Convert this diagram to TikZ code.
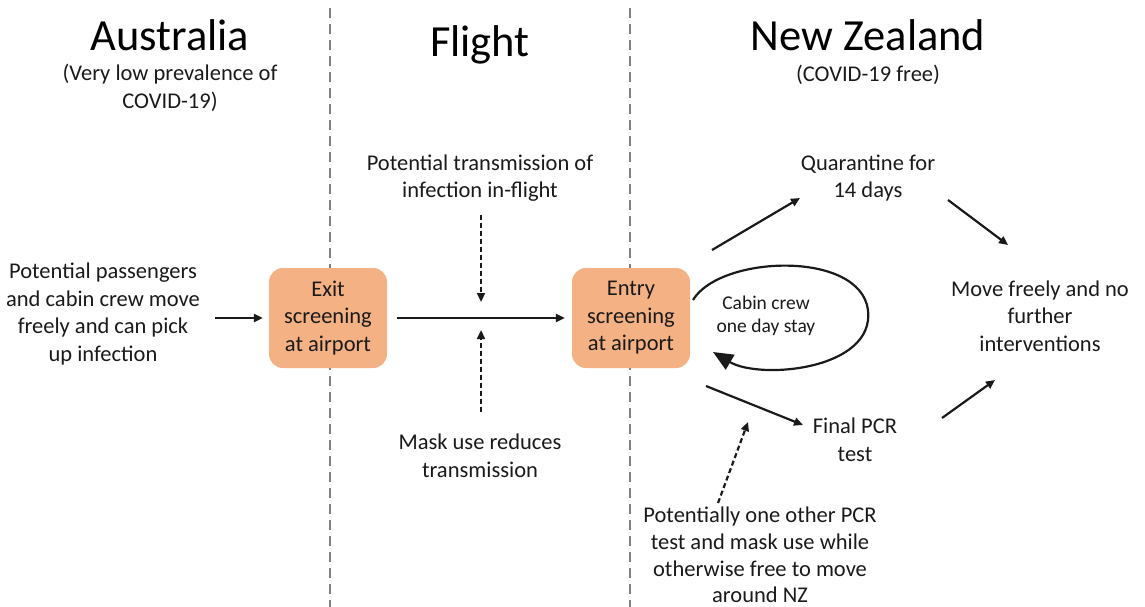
\documentclass[tikz,border=0pt]{standalone}
\usepackage{fontspec}
\setmainfont{Carlito}
\usepackage{xcolor}
\usetikzlibrary{arrows.meta,calc}
\definecolor{boxorange}{HTML}{F4B183}
\definecolor{divgray}{HTML}{808080}
\definecolor{inkgray}{HTML}{1A1A1A}

\begin{document}
\begin{tikzpicture}[x=1pt,y=-1pt,
	txt/.style={align=center,text=inkgray,inner sep=2pt,font=\fontsize{22.5}{27.5}\selectfont},
	region/.style={text=black,inner sep=2pt,font=\fontsize{44.5}{48}\selectfont},
	screen/.style={txt,rounded corners=14pt,fill=boxorange,minimum width=118pt,minimum height=100pt},
	flow/.style={-{Triangle[length=9pt,width=8pt]},line width=2.2pt,inkgray},
	hint/.style={flow,dash pattern=on 5pt off 3pt},
	divider/.style={divgray,line width=2.5pt,dash pattern=on 10pt off 6pt}]
			\useasboundingbox (0,0) rectangle (1145,607);
			% Duong phan chia
			\foreach \x in {330,630}
			\draw[divider] (\x,8) -- (\x,607);
			% Tieu de
			\node[region] (aus) at (170,35) {Australia};
			\node[region] (fli) at (480,45) {Flight};
			\node[region] (nz) at (868,35) {New Zealand};
			\node[txt] (ausnote) at (170,88) {(Very low prevalence of\\COVID-19)};
			\node[txt] (nznote) at (868,75) {(COVID-19 free)};
			% Cac nut
			\node[txt] (pass) at (103,314) {Potential passengers\\and cabin crew move\\freely and can pick\\up infection};
			\node[screen] (exit) at (328,318) {Exit\\screening\\at airport};
			\node[screen] (entry) at (631,318) {Entry\\screening\\at airport};
			\node[txt] (trans) at (480,178) {Potential transmission of\\infection in-flight};
			\node[txt] (mask) at (480,456) {Mask use reduces\\transmission};
			\node[txt,font=\fontsize{19.5}{23}\selectfont] (crew) at (766,316) {Cabin crew\\one day stay};
			\node[txt] (quar) at (868,178) {Quarantine for\\14 days};
			\node[txt] (free) at (1040,316) {Move freely and no\\further\\interventions};
			\node[txt] (final) at (855,440) {Final PCR\\test};
			\node[txt,font=\fontsize{22.5}{26.8}\selectfont] (other) at (760,555) {Potentially one other PCR\\test and mask use while\\otherwise free to move\\around NZ};
			\coordinate (gapin) at (481,302);
			\coordinate (gapout) at (481,330);
			\coordinate (pcrhint) at (748,422);
			% Mui ten
			\draw[flow] ($(pass)+(112,4)$) -- ($(exit.west)+(-6,0)$);
			\draw[flow] ($(exit.east)+(10,0)$) -- ($(entry.west)+(-7,0)$);
			\draw[hint] ($(trans)+(1,37)$) -- (gapin);
			\draw[hint] ($(mask)+(1,-44)$) -- (gapout);
			\draw[flow] ($(entry)+(81,-68)$) -- ($(quar)+(-68,20)$);
			\draw[flow] ($(quar)+(80,22)$) -- ($(free)+(-32,-71)$);
			\draw[flow] ($(entry)+(75,68)$) -- ($(final)+(-52,-15)$);
			\draw[flow] ($(final)+(87,-22)$) -- ($(free)+(-45,64)$);
			\draw[hint] ($(other)+(-42,-52)$) -- (pcrhint);
			% Vong lap
			\draw[line width=2.2pt,inkgray,-{Triangle[length=20pt,width=17pt]}] ($(entry)+(62,-18)$)
			.. controls (720,255) and (860,250) .. (868,310)
			.. controls (875,370) and (760,380) .. ($(entry)+(82,34)$);
		\end{tikzpicture}
\end{document}
